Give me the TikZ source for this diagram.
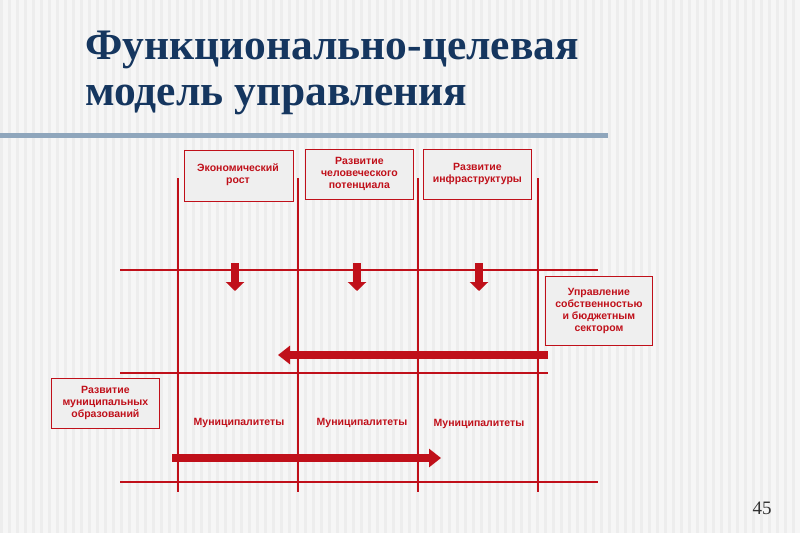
\documentclass[tikz,border=0pt]{standalone}
\usepackage{fontspec}
\setmainfont{Liberation Serif}
\newfontfamily\lsans{Liberation Sans}
\usetikzlibrary{arrows.meta}
\definecolor{rd}{HTML}{C0101A}
\definecolor{bx}{HTML}{EFEFEF}
\definecolor{navy}{HTML}{15365F}
\definecolor{bar}{HTML}{8FA6BC}
\tikzset{
 lbl/.style={draw=rd,fill=bx,text=rd,font=\lsans\bfseries\fontsize{10.5}{12}\selectfont,align=center,inner sep=1pt,line width=0.8pt,anchor=north west},
 grid/.style={draw=rd,line width=1.2pt},
 darr/.style={rd,line width=8pt,-{Triangle[length=9pt,width=18pt]}},
 harr/.style={rd,line width=8pt,-{Triangle[length=12pt,width=18pt]}},
 mun/.style={text=rd,font=\lsans\bfseries\fontsize{10.5}{12}\selectfont}
}
\begin{document}
\begin{tikzpicture}[x=1pt,y=-1pt]
\useasboundingbox (0,0) rectangle (800,533);
\fill[white!93!gray] (0,0) rectangle (800,533);
\foreach \i in {0,8,...,792} \fill[white!86!gray] (\i,0) rectangle (\i+3,533);
\node[anchor=west,text=navy,font=\bfseries\fontsize{43.5}{46}\selectfont,inner sep=0pt] (t1) at (85,50) {Функционально-целевая};
\node[anchor=west,text=navy,font=\bfseries\fontsize{43.5}{46}\selectfont,inner sep=0pt] (t2) at (85,100) {модель управления};
\fill[bar] (0,133) rectangle (608,138);
\node[font=\fontsize{19}{20}\selectfont,text=black!80] (pg) at (762,508) {45};
% grid
\foreach \x/\n in {178/v1,298/v2,418/v3,538/v4}{
 \coordinate (\n t) at (\x,178); \coordinate (\n b) at (\x,492);
 \draw[grid] (\n t) -- (\n b);}
\coordinate (h1a) at (120,270); \coordinate (h1b) at (598,270);
\coordinate (h2a) at (120,373); \coordinate (h2b) at (548,373);
\coordinate (h3a) at (120,482); \coordinate (h3b) at (598,482);
\draw[grid] (h1a)--(h1b); \draw[grid] (h2a)--(h2b); \draw[grid] (h3a)--(h3b);
% boxes
\node[lbl,minimum width=109pt,minimum height=51pt,anchor=north west] (b1) at (184,150) {};
\node[text=rd,font=\lsans\bfseries\fontsize{10.5}{12}\selectfont,align=center] (b1t) at (238,175) {Экономический\\рост};
\node[lbl,minimum width=108pt,minimum height=50pt] (b2) at (305,149) {Развитие\\человеческого\\потенциала};
\node[lbl,minimum width=108pt,minimum height=50pt] (b3) at (423,149) {Развитие\\инфраструктуры};
\node[lbl,minimum width=107pt,minimum height=69pt] (b4) at (545,276) {Управление\\собственностью\\и бюджетным\\сектором};
\node[lbl,minimum width=108pt,minimum height=50pt] (b5) at (51,378) {Развитие\\муниципальных\\образований};
% down arrows
\foreach \x/\n in {235/a1,357/a2,479/a3}{
 \coordinate (\n s) at (\x,263); \coordinate (\n e) at (\x,291);
 \draw[darr] (\n s) -- (\n e);}
\coordinate (la) at (548,355); \coordinate (lb) at (278,355);
\draw[harr] (la) -- (lb);
\coordinate (ra) at (172,458); \coordinate (rb) at (441,458);
\draw[harr] (ra) -- (rb);
\node[mun] (m1) at (239,423) {Муниципалитеты};
\node[mun] (m2) at (362,423) {Муниципалитеты};
\node[mun] (m3) at (479,424) {Муниципалитеты};
\end{tikzpicture}
\end{document}
